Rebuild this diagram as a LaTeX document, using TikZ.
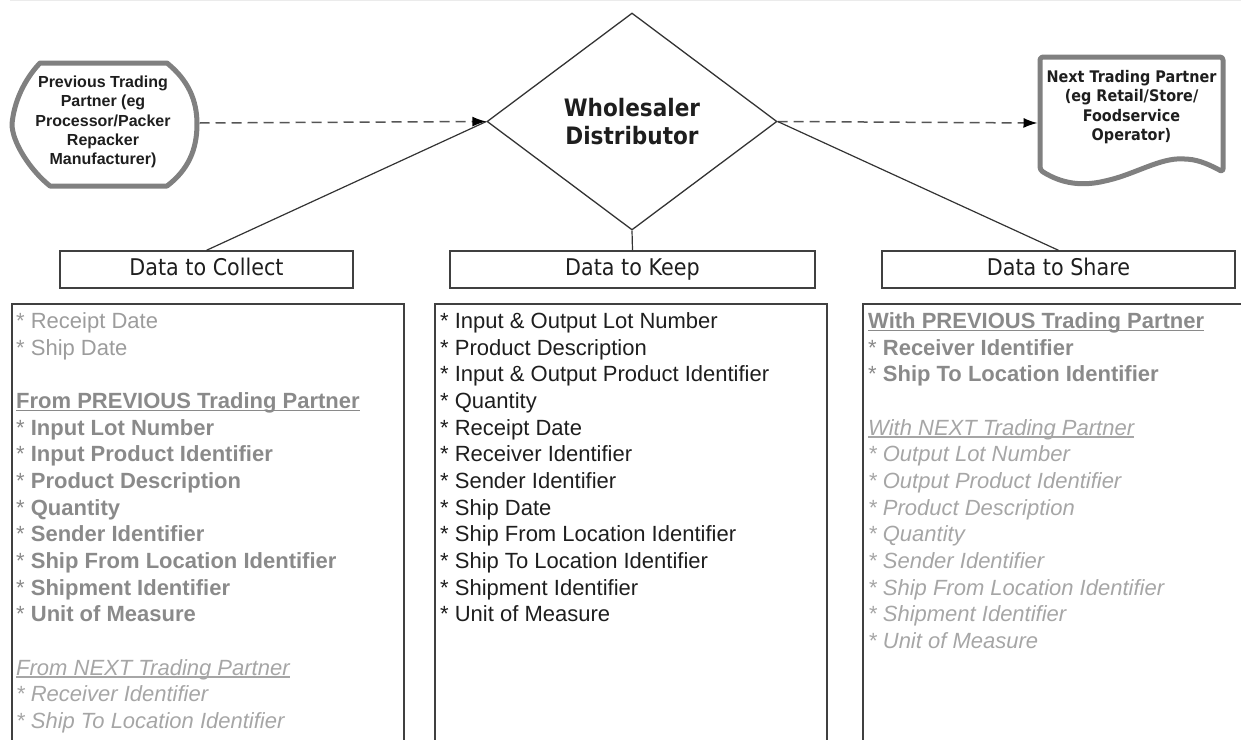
\documentclass[tikz,border=0pt]{standalone}
\usepackage{fontspec}
\usetikzlibrary{arrows.meta,shapes.geometric}
\newfontfamily\arialf{Liberation Sans}
\newfontfamily\tahf[FakeStretch=0.9]{DejaVu Sans}
\definecolor{lineC}{HTML}{333333}
\definecolor{boxC}{HTML}{404040}
\definecolor{shapeC}{HTML}{808080}
\definecolor{dashC}{HTML}{555555}
\definecolor{txtK}{HTML}{1E1E1E}
\definecolor{txtG}{HTML}{9C9C9C}
\definecolor{txtB}{HTML}{8A8A8A}
\definecolor{txtI}{HTML}{A6A6A6}
\newcommand\ulbox[1]{\setbox0=\hbox{#1}\rlap{\rule[-2.6pt]{\wd0}{1.3pt}}\box0}
\begin{document}
\begin{tikzpicture}[x=1pt,y=-1pt,
  item/.style={anchor=base west, inner sep=0pt, font=\arialf\fontsize{22}{26}\selectfont},
  hdr/.style={draw=boxC, line width=1.4pt, minimum height=37pt, inner sep=0pt,
    font=\tahf\fontsize{23}{27}\selectfont, text height=17pt, text depth=5pt, text=txtK},
  panel/.style={draw=boxC, line width=1.6pt},
  conn/.style={draw=lineC, line width=1.2pt},
  flow/.style={draw=dashC, line width=1.5pt, dash pattern=on 10pt off 6pt,
    -{Latex[length=14pt,width=10pt,color=black]}},
  partner/.style={draw=shapeC, line width=5pt, line join=round},
  ptext/.style={align=center, inner sep=0pt, text=txtK}]
\useasboundingbox (0,0) rectangle (1241,739);
\clip (0,0) rectangle (1241,739);
\draw[black!8, line width=1pt] (10,0.5) -- (1241,0.5);

% central decision
\node[draw=lineC, line width=1.3pt, diamond, minimum width=290pt, minimum height=217pt,
  inner sep=0pt, font=\tahf\bfseries\fontsize{24}{28}\selectfont, align=center, text=txtK]
  (wd) at (632,121.5) {Wholesaler\\Distributor};

% previous partner (display shape)
\draw[partner] (40,63) -- (167,63)
  .. controls (188,80) and (197,100) .. (197,124)
  .. controls (197,150) and (188,170) .. (167,186)
  -- (50,186)
  .. controls (30,170) and (12,142) .. (12,124)
  .. controls (14,102) and (24,80) .. (40,63) -- cycle;
\node[ptext, font=\arialf\bfseries\fontsize{16}{19.3}\selectfont] (prev) at (103,122)
  {Previous Trading\\Partner (eg\\Processor/Packer\\Repacker\\Manufacturer)};
\coordinate (prevE) at (199.5,123);

% next partner (document shape)
\draw[partner, rounded corners=3pt] (1040,120) -- (1040,57) -- (1223,57) -- (1223,172)
  .. controls (1212,166) and (1200,160) .. (1185,159)
  .. controls (1160,158) and (1135,174) .. (1105,181)
  .. controls (1082,186) and (1062,184) .. (1040,170) -- cycle;
\node[ptext, font=\tahf\bfseries\fontsize{16}{19.5}\selectfont] (next) at (1131.5,107)
  {Next Trading Partner\\(eg Retail/Store/\\Foodservice\\Operator)};
\coordinate (nextW) at (1037.5,123);

\draw[flow] (prevE) -- (wd.west);
\draw[flow] (wd.east) -- (nextW);

% headers
\node[hdr, minimum width=293pt] (hc) at (206.5,269.5) {Data to Collect};
\node[hdr, minimum width=365pt] (hk) at (632.5,269.5) {Data to Keep};
\node[hdr, minimum width=353pt] (hs) at (1058.5,269.5) {Data to Share};

\draw[conn] (wd.west) -- (hc.north);
\draw[conn] (wd.south) -- (hk.north);
\draw[conn] (wd.east) -- (hs.north);

% panels
\draw[panel] (12,304) rectangle (404,760);
\draw[panel] (435,304) rectangle (827,760);
\draw[panel] (863,304) rectangle (1260,760);

% Data to Collect
\node[item, text=txtG] (c0) at (16,328.3) {* Receipt Date};
\node[item, text=txtG] (c1) at (16,355.0) {* Ship Date};
\node[item, text=txtB] (c3) at (16,408.3) {\ulbox{\bfseries From PREVIOUS Trading Partner}};
\node[item, text=txtB] (c4) at (16,435.0) {* \textbf{Input Lot Number}};
\node[item, text=txtB] (c5) at (16,461.7) {* \textbf{Input Product Identifier}};
\node[item, text=txtB] (c6) at (16,488.3) {* \textbf{Product Description}};
\node[item, text=txtB] (c7) at (16,515.0) {* \textbf{Quantity}};
\node[item, text=txtB] (c8) at (16,541.7) {* \textbf{Sender Identifier}};
\node[item, text=txtB] (c9) at (16,568.3) {* \textbf{Ship From Location Identifier}};
\node[item, text=txtB] (c10) at (16,595.0) {* \textbf{Shipment Identifier}};
\node[item, text=txtB] (c11) at (16,621.7) {* \textbf{Unit of Measure}};
\node[item, text=txtI] (c13) at (16,675.0) {\ulbox{\itshape From NEXT Trading Partner}};
\node[item, text=txtI] (c14) at (16,701.7) {\itshape * Receiver Identifier};
\node[item, text=txtI] (c15) at (16,728.3) {\itshape * Ship To Location Identifier};

% Data to Keep
\node[item, text=txtK] (k0) at (440,328.3) {* Input \& Output Lot Number};
\node[item, text=txtK] (k1) at (440,355.0) {* Product Description};
\node[item, text=txtK] (k2) at (440,381.6) {* Input \& Output Product Identifier};
\node[item, text=txtK] (k3) at (440,408.3) {* Quantity};
\node[item, text=txtK] (k4) at (440,435.0) {* Receipt Date};
\node[item, text=txtK] (k5) at (440,461.7) {* Receiver Identifier};
\node[item, text=txtK] (k6) at (440,488.3) {* Sender Identifier};
\node[item, text=txtK] (k7) at (440,515.0) {* Ship Date};
\node[item, text=txtK] (k8) at (440,541.7) {* Ship From Location Identifier};
\node[item, text=txtK] (k9) at (440,568.3) {* Ship To Location Identifier};
\node[item, text=txtK] (k10) at (440,595.0) {* Shipment Identifier};
\node[item, text=txtK] (k11) at (440,621.7) {* Unit of Measure};

% Data to Share
\node[item, text=txtB] (s0) at (868,328.3) {\ulbox{\bfseries With PREVIOUS Trading Partner}};
\node[item, text=txtB] (s1) at (868,355.0) {* \textbf{Receiver Identifier}};
\node[item, text=txtB] (s2) at (868,381.6) {* \textbf{Ship To Location Identifier}};
\node[item, text=txtI] (s4) at (868,435.0) {\ulbox{\itshape With NEXT Trading Partner}};
\node[item, text=txtI] (s5) at (868,461.7) {\itshape * Output Lot Number};
\node[item, text=txtI] (s6) at (868,488.3) {\itshape * Output Product Identifier};
\node[item, text=txtI] (s7) at (868,515.0) {\itshape * Product Description};
\node[item, text=txtI] (s8) at (868,541.7) {\itshape * Quantity};
\node[item, text=txtI] (s9) at (868,568.3) {\itshape * Sender Identifier};
\node[item, text=txtI] (s10) at (868,595.0) {\itshape * Ship From Location Identifier};
\node[item, text=txtI] (s11) at (868,621.7) {\itshape * Shipment Identifier};
\node[item, text=txtI] (s12) at (868,648.3) {\itshape * Unit of Measure};
\end{tikzpicture}
\end{document}
